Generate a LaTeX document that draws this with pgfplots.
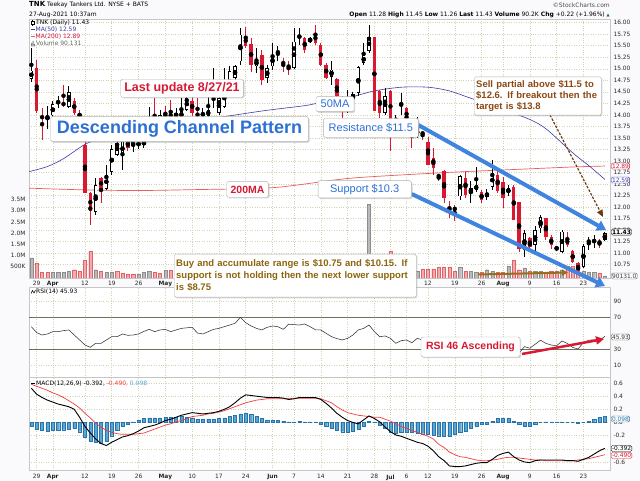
\documentclass[border=0pt]{standalone}
\usepackage{pgfplots}
\pgfplotsset{compat=1.18}
\usepackage{pgfplotstable}
\usepackage{fontspec}
\setmainfont{Liberation Sans}
\newfontfamily\dv{DejaVu Sans}
\usetikzlibrary{arrows.meta,shadows}

\definecolor{cred}{RGB}{215,25,50}
\definecolor{ma50}{RGB}{60,60,165}
\definecolor{ma200}{RGB}{232,95,95}
\definecolor{chblue}{RGB}{64,132,224}
\definecolor{txblue}{RGB}{45,112,212}
\definecolor{sellbr}{RGB}{140,72,20}
\definecolor{buybr}{RGB}{140,100,15}
\definecolor{gridc}{RGB}{210,210,180}
\definecolor{volp}{RGB}{244,170,172}
\definecolor{volpd}{RGB}{222,100,105}
\definecolor{volg}{RGB}{186,186,186}
\definecolor{volgd}{RGB}{140,140,140}
\definecolor{histf}{RGB}{90,165,210}
\definecolor{histd}{RGB}{40,115,170}
\definecolor{sigred}{RGB}{240,60,60}
\definecolor{bgc}{RGB}{250,250,252}
\definecolor{rsiline}{RGB}{110,110,90}
\definecolor{volarrow}{RGB}{150,110,30}

\newcommand\tk{\dv\fontsize{5.9}{6.5}\selectfont}

% hollow candles (close above open)
\pgfplotstableread{
i o h l c
-1 14.78 15.45 14.72 14.96
2 13.90 14.20 13.70 13.96
3 13.99 14.30 13.93 14.23
6 14.18 14.62 14.15 14.49
11 11.89 12.63 11.83 12.48
13 12.40 12.92 12.38 12.70
14 12.77 13.35 12.70 13.26
15 13.14 13.60 13.10 13.39
16 13.10 13.48 12.81 13.43
19 13.32 13.50 13.25 13.41
20 13.35 13.50 13.28 13.42
21 13.60 14.18 13.50 13.85
23 13.80 14.10 13.70 14.00
26 13.95 14.15 13.85 14.05
27 13.93 14.36 13.88 14.08
28 14.11 14.55 14.08 14.36
31 13.97 14.15 13.88 14.05
32 13.97 14.44 13.94 14.11
34 14.04 14.55 14.00 14.36
35 14.18 15.02 14.15 14.55
36 14.45 15.05 14.40 14.95
37 14.80 15.09 14.73 15.05
38 15.16 15.88 15.09 15.74
41 15.05 15.45 14.91 15.20
43 14.80 15.09 14.69 15.02
44 15.05 15.56 14.98 15.30
48 15.02 15.88 15.00 15.59
51 15.59 15.70 15.56 15.65
55 14.83 15.16 14.65 14.98
58 14.10 14.55 14.05 14.30
59 14.35 14.50 14.25 14.45
60 14.47 15.05 14.40 15.03
61 15.12 15.56 15.09 15.29
62 15.38 15.96 15.34 15.70
65 14.04 14.58 13.99 14.40
67 13.86 14.00 13.71 13.93
71 13.55 13.95 13.50 13.70
79 12.23 12.70 12.16 12.67
81 12.30 12.56 12.09 12.41
82 12.37 12.88 12.33 12.48
85 12.44 13.02 12.37 12.73
88 12.30 12.48 12.23 12.41
91 11.07 11.50 10.92 11.43
93 11.18 11.58 11.00 11.50
94 11.54 11.83 11.43 11.79
98 11.03 11.50 11.00 11.47
102 10.71 11.20 10.68 11.15
}\hollow

% filled red candles (down)
\pgfplotstableread{
i o h l c
0 15.02 15.18 14.05 14.09
1 13.97 14.15 13.45 13.93
5 14.25 14.65 14.18 14.22
7 14.31 14.37 14.00 14.04
8 14.04 14.10 13.90 13.93
9 13.35 13.45 12.30 12.30
10 12.30 12.32 11.62 11.91
12 12.63 12.65 12.09 12.40
17 13.43 13.54 13.22 13.28
22 13.95 14.36 13.60 13.75
24 14.05 14.20 13.85 13.93
25 14.06 14.33 13.80 13.92
29 14.30 14.40 13.98 14.05
30 14.04 14.36 13.90 13.97
39 15.72 15.90 15.45 15.50
40 15.54 15.67 14.94 15.09
42 15.30 15.41 14.65 14.76
46 15.14 15.23 14.94 15.11
47 15.06 15.16 14.87 15.04
50 15.67 15.70 15.34 15.41
52 15.77 15.96 15.52 15.56
53 15.52 15.56 15.05 15.09
54 15.09 15.12 14.78 14.81
56 14.78 14.80 14.26 14.40
57 14.35 14.40 13.93 14.10
63 15.70 15.70 14.08 14.08
64 14.51 14.55 13.93 14.05
66 14.51 14.55 13.21 13.86
69 14.15 14.18 13.71 13.89
70 13.75 13.80 13.28 13.55
72 13.62 13.66 13.46 13.58
73 13.42 13.53 12.92 12.92
74 13.06 13.28 12.70 12.85
75 12.69 12.72 12.56 12.66
76 12.79 12.81 12.09 12.20
77 12.01 12.14 11.76 11.94
78 12.00 12.05 11.69 11.92
80 12.64 12.77 12.20 12.27
83 12.33 12.37 12.08 12.15
86 12.70 12.80 12.30 12.34
87 12.55 12.66 11.98 12.20
89 12.44 12.48 11.72 11.72
90 12.10 12.12 11.03 11.10
92 11.32 11.36 11.03 11.14
95 11.76 11.76 11.28 11.36
96 11.36 11.40 11.10 11.18
97 11.12 11.15 11.05 11.10
99 11.32 11.47 11.14 11.18
100 11.04 11.08 10.78 10.80
101 10.78 10.80 10.55 10.62
105 11.26 11.30 11.12 11.21
}\redc

% filled black candles
\pgfplotstableread{
i o h l c
4 14.29 14.40 14.15 14.26
18 13.43 13.50 13.20 13.32
33 14.36 15.02 14.15 14.33
45 15.37 15.49 15.16 15.35
49 15.71 15.88 15.52 15.68
68 14.23 14.47 14.00 14.21
84 12.30 12.40 12.15 12.22
103 11.27 11.36 11.07 11.24
104 11.28 11.40 11.12 11.25
}\blackc

% latest (partial) day
\pgfplotstableread{
i o h l c
106 11.28 11.45 11.26 11.43
}\lastc

% volume in millions: up days (grey)
\pgfplotstableread{
i v
-1 0.90
3 0.25
4 0.25
5 0.25
6 0.29
11 0.37
13 0.25
14 0.25
19 0.18
20 0.25
21 0.29
24 0.34
26 0.30
27 0.32
28 0.40
31 0.28
32 0.30
33 0.45
34 0.30
35 0.38
36 0.42
37 0.35
38 0.60
41 0.35
43 0.35
44 0.35
45 0.30
48 0.45
49 0.35
51 0.25
55 0.30
58 0.30
59 0.28
60 0.45
61 0.40
62 3.30
65 0.45
67 0.50
68 0.40
71 0.30
79 0.50
81 0.30
82 0.26
84 0.37
85 0.30
88 0.51
91 0.45
93 0.30
94 0.30
98 0.37
102 0.30
103 0.26
104 0.26
106 0.09
}\volg

% volume in millions: down days (pink)
\pgfplotstableread{
i v
0 0.67
1 0.25
2 0.25
7 0.37
8 0.29
9 0.79
10 1.19
12 0.29
15 0.29
16 0.22
17 0.18
18 0.18
22 0.25
23 0.22
25 0.34
29 0.35
30 0.30
39 0.45
40 0.50
42 0.45
46 0.30
47 0.28
50 0.32
52 0.35
53 0.40
54 0.35
56 0.45
57 0.40
63 0.90
64 0.60
66 1.20
69 0.40
70 0.45
72 0.41
73 0.41
74 0.41
75 0.50
76 0.50
77 0.50
78 0.30
80 0.30
83 0.26
86 0.26
87 0.26
89 0.79
90 0.37
92 0.30
95 0.26
96 0.30
97 0.30
99 0.51
100 0.51
101 0.41
105 0.22
}\volp

\pgfplotstableread{
i r m s hh
-1 57.9 0.52 0.58 -0.06
0 50.4 0.43 0.55 -0.10
1 47.5 0.38 0.52 -0.12
2 48.8 0.34 0.49 -0.13
3 51.7 0.31 0.45 -0.12
4 51.7 0.28 0.42 -0.12
5 53.0 0.26 0.38 -0.11
6 53.8 0.24 0.33 -0.10
7 47.5 0.20 0.28 -0.09
8 41.3 0.08 0.22 -0.14
9 35.0 -0.06 0.14 -0.22
10 32.1 -0.16 0.07 -0.28
11 37.1 -0.25 -0.01 -0.30
12 37.1 -0.32 -0.07 -0.31
13 41.3 -0.35 -0.12 -0.28
14 45.4 -0.30 -0.15 -0.20
15 45.4 -0.26 -0.17 -0.12
16 48.8 -0.22 -0.18 -0.06
17 47.1 -0.20 -0.18 -0.03
18 47.5 -0.17 -0.18 0.01
19 48.8 -0.13 -0.17 0.03
20 52.0 -0.08 -0.16 0.06
21 54.6 -0.06 -0.13 0.07
22 51.7 -0.04 -0.10 0.07
23 53.8 -0.01 -0.07 0.07
24 54.6 0.03 -0.04 0.08
25 51.7 0.05 -0.02 0.08
26 53.8 0.08 0.01 0.08
27 55.8 0.11 0.03 0.09
28 56.5 0.13 0.06 0.08
29 57.1 0.15 0.09 0.07
30 50.0 0.14 0.10 0.05
31 48.8 0.13 0.11 0.05
32 51.7 0.14 0.13 0.05
33 54.6 0.15 0.14 0.05
34 55.8 0.17 0.16 0.06
35 57.9 0.20 0.18 0.07
36 60.0 0.24 0.21 0.09
37 62.1 0.30 0.24 0.11
38 69.6 0.37 0.27 0.13
39 62.9 0.42 0.30 0.14
40 58.8 0.41 0.32 0.12
41 55.8 0.40 0.34 0.09
42 53.8 0.39 0.35 0.06
43 57.1 0.38 0.36 0.04
44 58.8 0.38 0.36 0.03
45 57.9 0.38 0.36 0.03
46 54.6 0.37 0.36 0.02
47 61.0 0.35 0.36 0.01
48 60.5 0.36 0.37 0.01
49 60.0 0.38 0.37 0.02
50 61.3 0.38 0.37 0.01
51 57.9 0.38 0.37 0.01
52 54.0 0.38 0.37 0.01
53 53.8 0.35 0.36 -0.02
54 49.6 0.29 0.33 -0.05
55 45.4 0.22 0.30 -0.09
56 43.0 0.14 0.24 -0.12
57 41.3 0.08 0.19 -0.14
58 43.3 0.03 0.15 -0.15
59 47.5 0.00 0.13 -0.13
60 53.8 -0.02 0.11 -0.10
61 55.8 0.04 0.10 -0.05
62 60.0 0.10 0.09 0.02
63 51.7 0.06 0.08 0.01
64 45.4 0.01 0.08 -0.04
65 46.3 -0.07 0.05 -0.09
66 43.3 -0.14 0.02 -0.14
67 37.1 -0.19 -0.02 -0.16
68 40.4 -0.21 -0.06 -0.15
69 41.3 -0.24 -0.09 -0.15
70 37.9 -0.27 -0.12 -0.15
71 43.3 -0.30 -0.15 -0.16
72 41.3 -0.32 -0.18 -0.17
73 36.0 -0.36 -0.21 -0.18
74 34.0 -0.43 -0.25 -0.19
75 33.0 -0.52 -0.33 -0.20
76 30.0 -0.58 -0.38 -0.21
77 27.0 -0.66 -0.45 -0.21
78 27.0 -0.67 -0.49 -0.18
79 38.0 -0.67 -0.52 -0.15
80 35.0 -0.66 -0.53 -0.13
81 38.0 -0.64 -0.55 -0.09
82 39.0 -0.62 -0.57 -0.05
83 36.0 -0.61 -0.58 -0.03
84 37.0 -0.61 -0.58 -0.02
85 44.0 -0.56 -0.57 0.02
86 40.0 -0.50 -0.56 0.06
87 38.0 -0.47 -0.54 0.07
88 40.0 -0.45 -0.53 0.07
89 32.0 -0.52 -0.53 0.02
90 25.0 -0.57 -0.54 -0.03
91 33.0 -0.60 -0.55 -0.05
92 31.0 -0.61 -0.56 -0.05
93 36.0 -0.58 -0.57 -0.02
94 41.0 -0.57 -0.57 0.00
95 37.0 -0.57 -0.58 0.01
96 35.0 -0.57 -0.58 0.01
97 34.0 -0.57 -0.58 0.01
98 40.0 -0.57 -0.58 0.01
99 37.0 -0.58 -0.58 0.00
100 32.0 -0.58 -0.58 0.00
101 30.0 -0.59 -0.57 -0.01
102 38.0 -0.56 -0.56 0.00
103 41.0 -0.53 -0.55 0.02
104 41.5 -0.48 -0.53 0.05
105 40.5 -0.43 -0.51 0.08
106 45.93 -0.392 -0.490 0.098
}\ind

\pgfplotstableread{
i v
-1.4 12.77
2 12.88
5 13.05
9 13.36
12 13.48
20 13.68
30 13.88
36 13.98
43 14.10
50 14.20
53 14.27
59 14.40
63 14.52
68 14.60
73 14.60
77 14.52
81 14.36
87 14.12
92 13.90
95 13.70
99 13.28
101 13.08
103 12.90
106 12.60
}\maf

\pgfplotstableread{
i v
-1.4 12.41
10 12.37
20 12.36
30 12.38
40 12.40
45 12.43
50 12.50
55 12.58
60 12.64
70 12.71
80 12.77
90 12.82
100 12.87
106 12.89
}\mab

\pgfplotsset{
  panel/.style={
    scale only axis, anchor=south west, width=581pt,
    xmin=-1.44, xmax=106.96,
    axis line style={draw=gray!45},
    major tick length=0pt, minor tick length=0pt,
    ticklabel style={font=\tk, text=black!85},
    /pgf/number format/assume math mode=true,
  },
  dates/.style={
    xtick={0,3,9,14,19,24,29,34,39,44,48,53,58,63,66,69,73,78,83,87,92,97,102},
  },
  datelabels/.style={
    xticklabels={29,\textbf{Apr},12,19,26,\textbf{May},10,17,24,\textbf{Jun},7,14,21,28,\textbf{Jul},6,12,19,26,\textbf{Aug},9,16,23},
  },
  gridst/.style={grid=major, major grid style={draw=gridc, dotted, line width=0.55pt}},
}

% wick: table, colour
\newcommand\wick[2]{%
 \addplot[only marks, mark=none, forget plot,
   error bars/.cd, y dir=both, y explicit, error mark=none,
   error bar style={line width=0.9pt, draw=#2}]
   table[x=i, y expr={(\thisrow{h}+\thisrow{l})/2}, y error expr={(\thisrow{h}-\thisrow{l})/2}]{#1};
}
% body: table, colour
\newcommand\cbody[2]{%
 \addplot[only marks, mark=none, forget plot,
   error bars/.cd, y dir=both, y explicit, error mark=none,
   error bar style={line width=3.4pt, draw=#2}]
   table[x=i, y expr={(\thisrow{o}+\thisrow{c})/2}, y error expr={max(abs(\thisrow{c}-\thisrow{o})/2,0.012)}]{#1};
}
% hollow interior: table, colour
\newcommand\cinner[2]{%
 \addplot[only marks, mark=none, forget plot,
   error bars/.cd, y dir=both, y explicit, error mark=none,
   error bar style={line width=1.8pt, draw=#2}]
   table[x=i, y expr={(\thisrow{o}+\thisrow{c})/2}, y error expr={max(abs(\thisrow{c}-\thisrow{o})/2-0.017,0.001)}]{#1};
}

\tikzset{
  anno/.style={draw=gray!60, fill=white, rounded corners=1.5pt, inner sep=1pt,
    drop shadow={shadow xshift=1.2pt, shadow yshift=-1.2pt, opacity=0.3}},
  rbox/.style={draw, fill=white, rounded corners=1.5pt, inner sep=0.8pt, font=\tk, anchor=west},
  hd/.style={inner sep=0pt, font=\dv\fontsize{6}{7}\selectfont},
}

\begin{document}
\begin{tikzpicture}
\useasboundingbox (0,0) rectangle (640pt,481pt);
\fill[bgc] (0,0) rectangle (640pt,481pt);

% ---------- main panel: grid and price scale
\begin{axis}[panel, dates, datelabels, gridst, at={(29pt,203pt)}, height=258.5pt,
  ymin=10.462, ymax=16.069,
  ytick={10.75,11,11.25,11.5,11.75,12,12.25,12.5,12.75,13,13.25,13.5,13.75,14,14.25,14.5,14.75,15,15.25,15.5,15.75,16},
  yticklabel pos=right,
  yticklabel style={/pgf/number format/.cd, fixed, fixed zerofill, precision=2},
  axis background/.style={fill=white}]
\end{axis}

% ---------- volume overlay
\begin{axis}[panel, at={(29pt,203pt)}, height=258.5pt, ymin=0, ymax=11.54,
  axis line style={draw=none}, xtick=\empty,
  ytick={0.5,1,1.5,2,2.5,3,3.5}, yticklabels={500K,1.0M,1.5M,2.0M,2.5M,3.0M,3.5M},
  yticklabel pos=left]
\addplot[ybar, bar width=3.2pt, bar shift=0pt, fill=volg, draw=volgd, line width=0.4pt] table[x=i,y=v]{\volg};
\addplot[ybar, bar width=3.2pt, bar shift=0pt, fill=volp, draw=volpd, line width=0.4pt] table[x=i,y=v]{\volp};
\end{axis}

% ---------- candles and moving averages
\begin{axis}[panel, at={(29pt,203pt)}, height=258.5pt, ymin=10.462, ymax=16.069,
  axis line style={draw=none}, xtick=\empty, ytick=\empty]
\addplot[ma200, line width=0.7pt, smooth] table[x=i,y=v]{\mab};
\addplot[ma50, line width=0.6pt, smooth] table[x=i,y=v]{\maf};
\wick{\hollow}{black}
\wick{\blackc}{black}
\wick{\lastc}{black}
\wick{\redc}{cred}
\cbody{\hollow}{black}
\cinner{\hollow}{white}
\cbody{\blackc}{black}
\cbody{\redc}{cred}
\cbody{\lastc}{black}
\cinner{\lastc}{yellow!90!orange}
\end{axis}

% ---------- RSI panel
\begin{axis}[panel, dates, gridst, xticklabels=\empty, at={(29pt,103.5pt)}, height=90.5pt,
  ymin=-5.6, ymax=107.5, ytick={10,30,70,90}, yticklabel pos=right,
  extra y ticks={30,70}, extra y tick labels={},
  extra y tick style={grid=major, major grid style={draw=rsiline, solid, line width=0.6pt}},
  axis background/.style={fill=white}]
\addplot[black!80, line width=0.55pt] table[x=i,y=r]{\ind};
\end{axis}

% ---------- MACD panel
\begin{axis}[panel, dates, datelabels, gridst, at={(29pt,11pt)}, height=92.5pt,
  ymin=-0.722, ymax=0.684, ytick={-0.6,-0.4,-0.2,0,0.2,0.4,0.6}, yticklabel pos=right,
  yticklabel style={/pgf/number format/.cd, fixed, fixed zerofill, precision=1},
  xticklabel style={yshift=-1pt},
  axis background/.style={fill=white}]
\addplot[ybar, bar width=3.1pt, bar shift=0pt, fill=histf, draw=histd, line width=0.3pt] table[x=i,y=hh]{\ind};
\addplot[sigred, line width=0.7pt] table[x=i,y=s]{\ind};
\addplot[black, line width=0.9pt] table[x=i,y=m]{\ind};
\end{axis}

% ---------- header
\node[hd, anchor=west] at (29pt,476pt) {{\bfseries\fontsize{7}{8}\selectfont TNK} Teekay Tankers Ltd. NYSE + BATS};
\node[hd, anchor=west] at (29pt,466.5pt) {27-Aug-2021 10:37am};
\node[hd, anchor=east, text=black!70] at (610pt,475.5pt) {\textcopyright StockCharts.com};
\node[hd, anchor=east] at (610pt,466pt) {\textbf{Open} 11.28 \textbf{High} 11.45 \textbf{Low} 11.26 \textbf{Last} 11.43 \textbf{Volume} 90.2K \textbf{Chg} +0.22 (+1.96\%) {\color{green!50!black}\fontsize{4}{5}\selectfont ▲}};

% ---------- legends
\draw[black, line width=0.4pt] (32.5pt,455pt) -- (32.5pt,461pt);
\draw[black, fill=white, line width=0.4pt] (31.3pt,456.5pt) rectangle (33.7pt,459.5pt);
\node[hd, anchor=west] at (36pt,458pt) {TNK (Daily) 11.43};
\draw[ma50, line width=1pt] (31pt,451pt) -- (35pt,451pt);
\node[hd, anchor=west, text=ma50] at (35.5pt,451pt) {MA(50) 12.59};
\draw[ma200, line width=1pt] (31pt,444pt) -- (35pt,444pt);
\node[hd, anchor=west, text=cred] at (35.5pt,444pt) {MA(200) 12.89};
\fill[gray] (31pt,434.5pt) rectangle (32pt,438pt) (32.6pt,434.5pt) rectangle (33.6pt,440pt) (34.2pt,434.5pt) rectangle (35.2pt,437pt);
\node[hd, anchor=west, text=black!60] at (36pt,437pt) {Volume 90,131};
\draw[black, line width=0.5pt] (31pt,187.5pt) -- (32.5pt,190.5pt) -- (34pt,188pt) -- (35.5pt,191pt);
\node[hd, anchor=west] at (36pt,189pt) {RSI(14) 45.93};
\draw[black, line width=1pt] (31pt,97pt) -- (35pt,97pt);
\node[hd, anchor=west] at (36pt,97pt) {MACD(12,26,9) -0.392, {\color{sigred}-0.490,} {\color{histf}0.098}};

% ---------- right-side value boxes
\node[rbox, draw=cred, text=cred] at (611pt,315pt) {12.89};
\node[rbox, draw=ma50, text=ma50] at (611pt,301pt) {12.59};
\node[rbox, draw=black, text=black, font=\dv\bfseries\fontsize{6}{7}\selectfont] at (611pt,249pt) {11.43};
\node[rbox, draw=black!60, text=black!80] at (611pt,205pt) {90131.0};
\node[rbox, draw=black!70, text=black!80] at (611pt,144pt) {45.93};
\node[rbox, draw=histd, text=histd] at (611pt,62pt) {0.098};
\node[rbox, draw=black, text=black] at (611pt,32.5pt) {-0.392};
\node[rbox, draw=cred, text=cred] at (611pt,25.5pt) {-0.490};

% ---------- channel lines and arrows
\draw[chblue, line width=4pt, -{Triangle[length=9pt,width=11pt]}] (418.3pt,356pt) -- (606pt,251pt);
\draw[chblue, line width=4pt, -{Triangle[length=9pt,width=11pt]}] (411.7pt,287pt) -- (605pt,195pt);
\draw[sellbr!80!black, line width=1.2pt, dash pattern=on 2.5pt off 1.5pt, -{Triangle[length=7pt,width=6pt]}] (550pt,366pt) -- (603pt,264pt);
\draw[volarrow, line width=2pt, -{Triangle[length=6pt,width=6pt]}] (478pt,206.5pt) -- (568pt,208.5pt);
\draw[cred, line width=2.5pt, -{Triangle[length=8pt,width=8pt]}] (522pt,127pt) -- (604pt,142pt);

% ---------- annotation boxes
\node[anno, minimum width=122.6pt, minimum height=18pt, text=cred, font=\bfseries\fontsize{12.5}{14}\selectfont] at (182pt,392.7pt) {Last update 8/27/21};
\node[anno, minimum width=257.6pt, minimum height=25pt, text=txblue, font=\bfseries\fontsize{18}{20}\selectfont] at (179.5pt,351.8pt) {Descending Channel Pattern};
\node[anno, minimum width=41.6pt, minimum height=15.6pt, text=cred, font=\bfseries\fontsize{10.5}{12}\selectfont] at (247.5pt,291.5pt) {200MA};
\node[anno, minimum width=38pt, minimum height=15pt, text=txblue, font=\fontsize{11}{12}\selectfont] at (335pt,376.8pt) {50MA};
\node[anno, minimum width=95pt, minimum height=19pt, text=txblue, font=\fontsize{11}{12}\selectfont] at (370.8pt,353.2pt) {Resistance \$11.5};
\node[anno, minimum width=93.3pt, minimum height=17.3pt, text=txblue, font=\fontsize{11}{12}\selectfont] at (364.7pt,291.7pt) {Support \$10.3};
\node[anno, anchor=north west, text width=123pt, minimum height=38.3pt, inner sep=2pt, align=left, text=sellbr, font=\bfseries\fontsize{9.5}{11}\selectfont] at (474pt,404.3pt) {Sell partial above \$11.5 to\\ \$12.6. If breakout then the\\ target is \$13.8};
\node[anno, anchor=north west, text width=238pt, minimum height=43pt, inner sep=2pt, align=left, text=buybr, font=\bfseries\fontsize{9.5}{12}\selectfont] at (174pt,227pt) {Buy and accumulate range is \$10.75 and \$10.15. If\\ support is not holding then the next lower support\\ is \$8.75};
\node[anno, minimum width=99pt, minimum height=20pt, text=cred, font=\bfseries\fontsize{10.5}{12}\selectfont] at (470.5pt,134pt) {RSI 46 Ascending};

\end{tikzpicture}
\end{document}
